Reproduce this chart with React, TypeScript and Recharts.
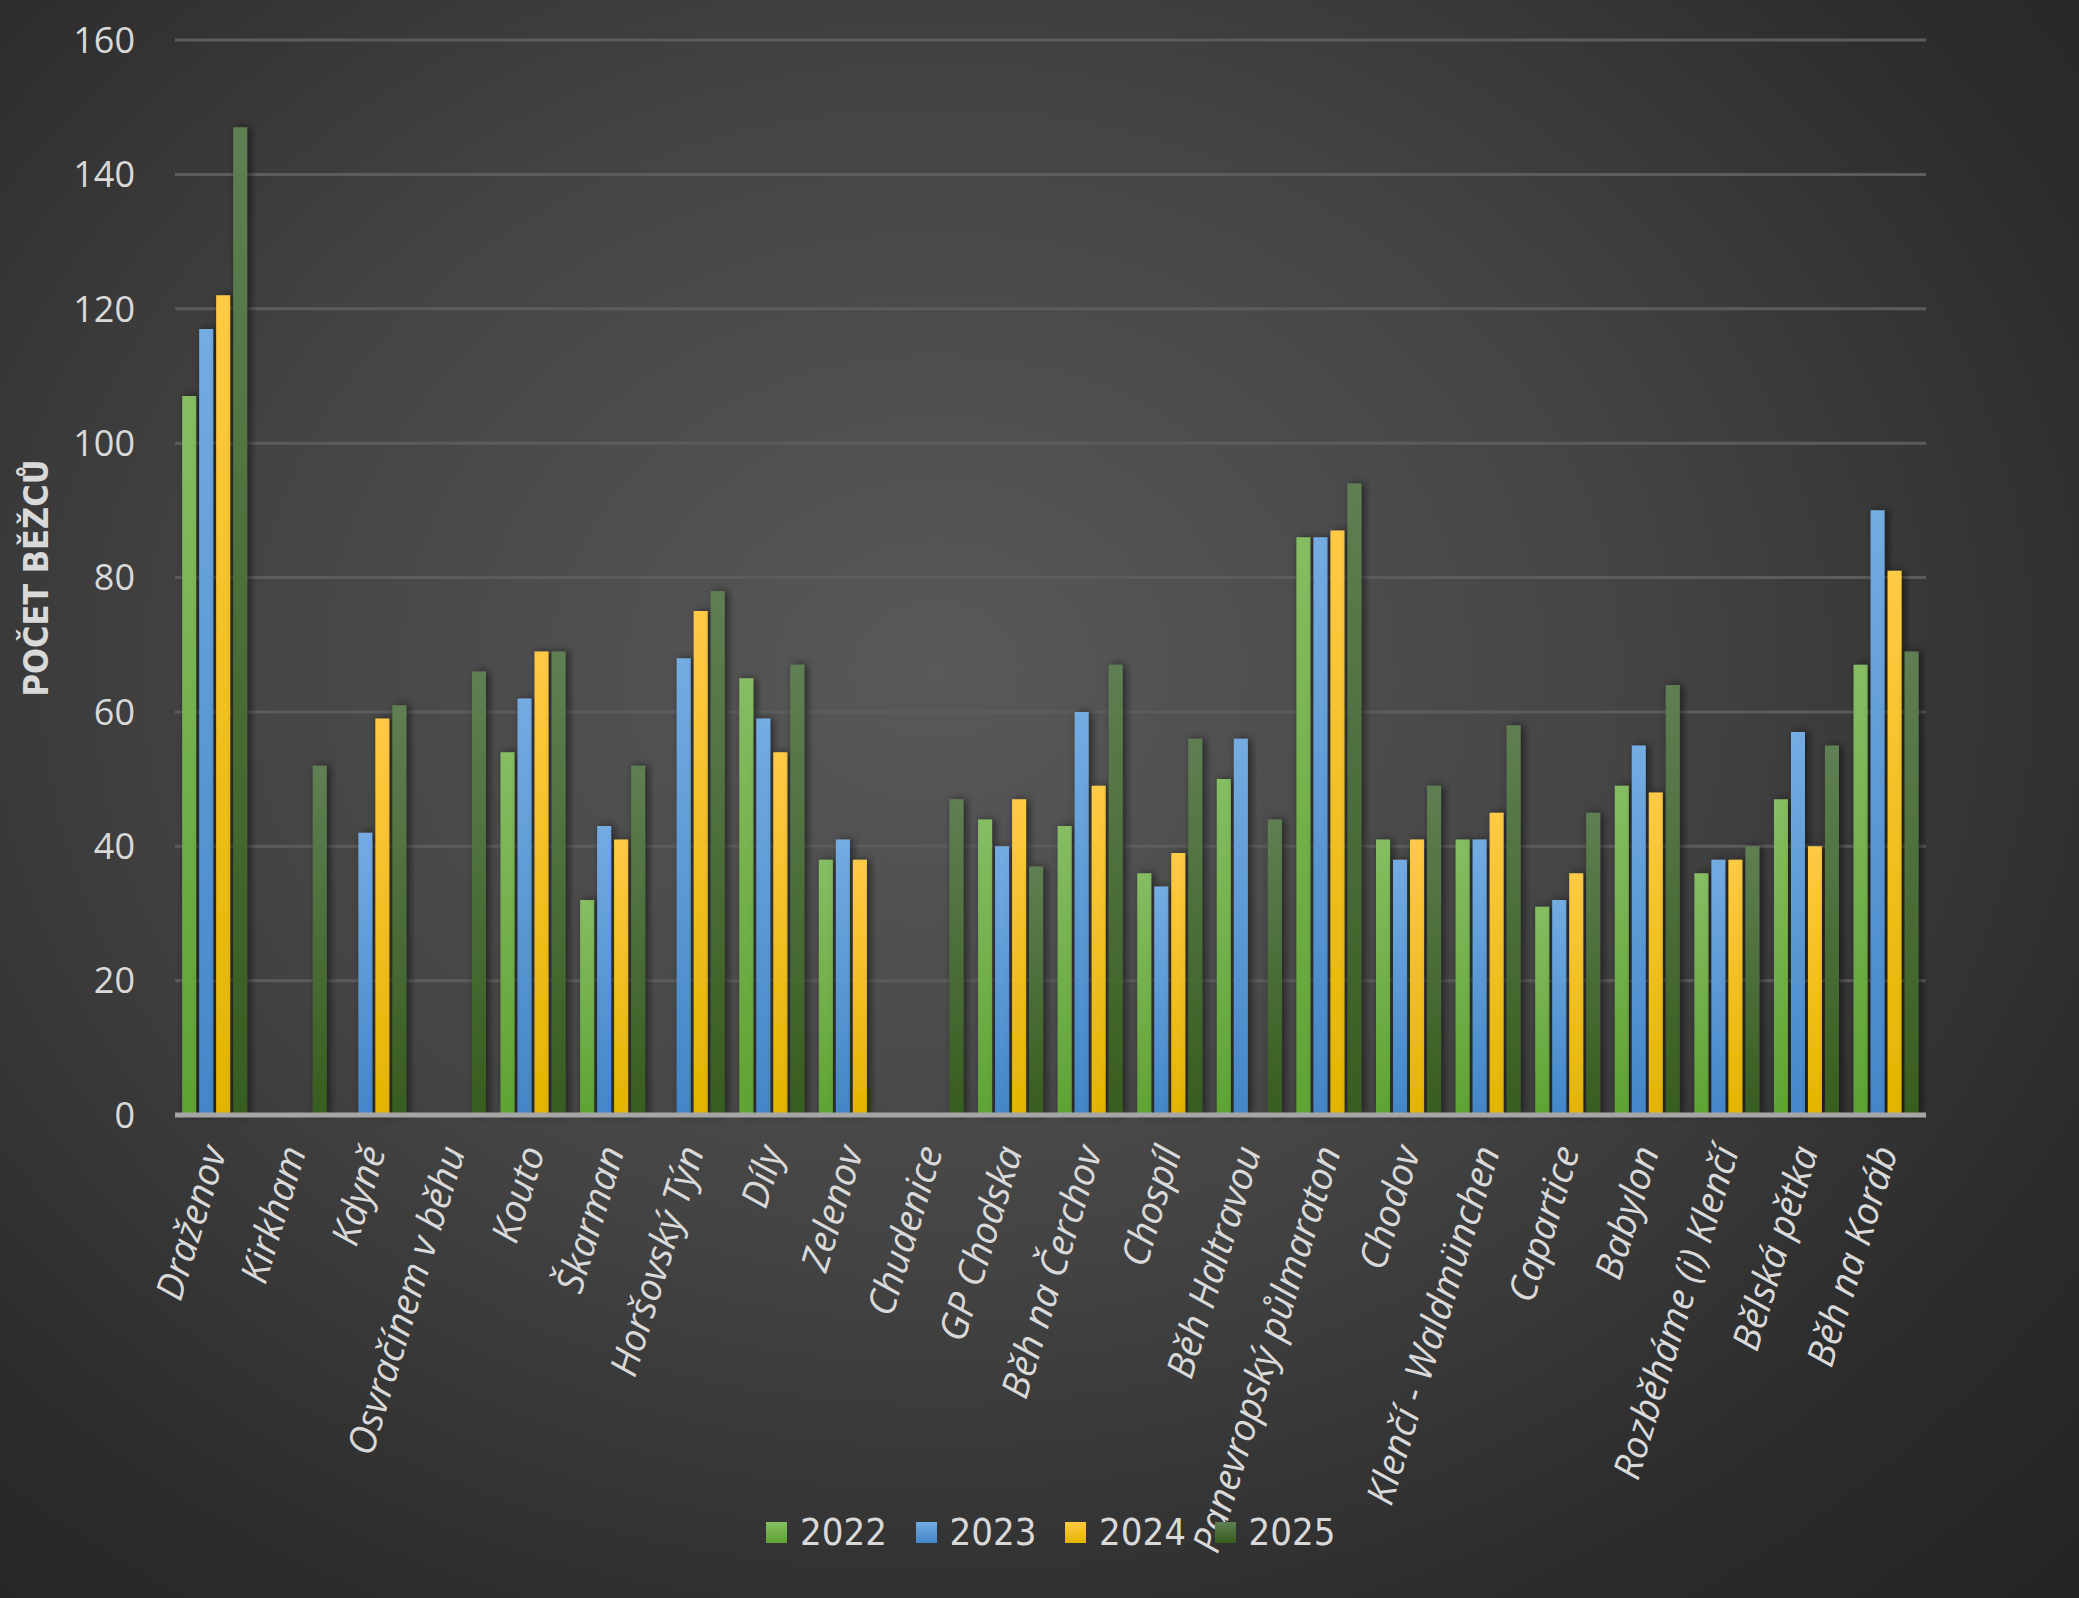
import {
  BarChart,
  Bar,
  XAxis,
  YAxis,
  CartesianGrid,
  Label,
} from "recharts";

const races = [
  "Draženov",
  "Kirkham",
  "Kdyně",
  "Osvračínem v běhu",
  "Kouto",
  "Škarman",
  "Horšovský Týn",
  "Díly",
  "Zelenov",
  "Chudenice",
  "GP Chodska",
  "Běh na Čerchov",
  "Chospíl",
  "Běh Haltravou",
  "Panevropský půlmaraton",
  "Chodov",
  "Klenčí - Waldmünchen",
  "Capartice",
  "Babylon",
  "Rozběháme (i) Klenčí",
  "Bělská pětka",
  "Běh na Koráb",
];

const runners2022 = [107, null, null, null, 54, 32, null, 65, 38, null, 44, 43, 36, 50, 86, 41, 41, 31, 49, 36, 47, 67];
const runners2023 = [117, null, 42, null, 62, 43, 68, 59, 41, null, 40, 60, 34, 56, 86, 38, 41, 32, 55, 38, 57, 90];
const runners2024 = [122, null, 59, null, 69, 41, 75, 54, 38, null, 47, 49, 39, null, 87, 41, 45, 36, 48, 38, 40, 81];
const runners2025 = [147, 52, 61, 66, 69, 52, 78, 67, null, 47, 37, 67, 56, 44, 94, 49, 58, 45, 64, 40, 55, 69];

const yTicks = [0, 20, 40, 60, 80, 100, 120, 140, 160];

const series = [
  { key: "y2022", name: "2022", top: "#86bd63", bottom: "#5fa334" },
  { key: "y2023", name: "2023", top: "#74ace2", bottom: "#4386c8" },
  { key: "y2024", name: "2024", top: "#ffca45", bottom: "#e3b500" },
  { key: "y2025", name: "2025", top: "#5f7f53", bottom: "#385d1f" },
];

const data = races.map((name, i) => ({
  name,
  y2022: runners2022[i],
  y2023: runners2023[i],
  y2024: runners2024[i],
  y2025: runners2025[i],
}));

const TEXT = "#d9d9d9";
const NARROW = "'Liberation Sans Narrow', 'DejaVu Sans Condensed', sans-serif";

function RaceTick({ x, y, payload }: any) {
  return (
    <g transform={`translate(${x + 12},${y + 34})`}>
      <text
        transform="rotate(-73)"
        textAnchor="end"
        fill={TEXT}
        fontSize={38}
        fontStyle="italic"
        fontFamily="'Open Sans', sans-serif"
      >
        {payload.value}
      </text>
    </g>
  );
}

export default function App() {
  return (
    <div
      style={{
        position: "relative",
        width: 2079,
        height: 1598,
        background:
          "radial-gradient(ellipse 75% 80% at 45% 42%, #595959 0%, #444 45%, #2c2c2c 80%, #252525 100%)",
        overflow: "hidden",
      }}
    >
      <style>{`body{margin:0}`}</style>
      <BarChart
        width={2079}
        height={1598}
        data={data}
        margin={{ top: 40, right: 153, bottom: 83, left: 75 }}
        barCategoryGap="9%"
        barGap={3}
      >
        <defs>
          {series.map((s) => (
            <linearGradient key={s.key} id={`grad-${s.key}`} x1="0" y1="0" x2="0" y2="1">
              <stop offset="0%" stopColor={s.top} />
              <stop offset="100%" stopColor={s.bottom} />
            </linearGradient>
          ))}
          <filter id="barShadow" x="-60%" y="-5%" width="220%" height="110%">
            <feDropShadow dx="3" dy="0" stdDeviation="4" floodColor="#000" floodOpacity="0.55" />
          </filter>
        </defs>
        <CartesianGrid vertical={false} stroke="#5c5c5c" strokeWidth={3} />
        <XAxis
          dataKey="name"
          interval={0}
          height={400}
          tickLine={false}
          tickSize={0}
          axisLine={{ stroke: "#a6a6a6", strokeWidth: 5 }}
          tick={<RaceTick />}
        />
        <YAxis
          width={100}
          domain={[0, 160]}
          ticks={yTicks}
          axisLine={false}
          tickLine={false}
          tickSize={0}
          tickMargin={40}
          tick={{ fill: TEXT, fontSize: 36, fontFamily: "'Open Sans', sans-serif" }}
        >
          <Label
            content={() => (
              <text
                x={36}
                y={578}
                transform="rotate(-90,36,578)"
                textAnchor="middle"
                dominantBaseline="central"
                fill={TEXT}
                fontSize={34}
                fontWeight="bold"
                fontFamily={NARROW}
              >
                POČET BĚŽCŮ
              </text>
            )}
          />
        </YAxis>
        {series.map((s) => (
          <Bar
            key={s.key}
            dataKey={s.key}
            name={s.name}
            fill={`url(#grad-${s.key})`}
            filter="url(#barShadow)"
            isAnimationActive={false}
          />
        ))}
      </BarChart>
      <div
        style={{
          position: "absolute",
          top: 1508,
          left: 766,
          display: "flex",
          alignItems: "center",
          height: 48,
          fontFamily: NARROW,
          fontSize: 38,
          color: TEXT,
        }}
      >
        {series.map((s) => (
          <div key={s.key} style={{ display: "flex", alignItems: "center", width: 149.5 }}>
            <span
              style={{
                display: "inline-block",
                width: 21,
                height: 21,
                marginRight: 13,
                background: `linear-gradient(${s.top}, ${s.bottom})`,
              }}
            />
            <span>{s.name}</span>
          </div>
        ))}
      </div>
    </div>
  );
}
